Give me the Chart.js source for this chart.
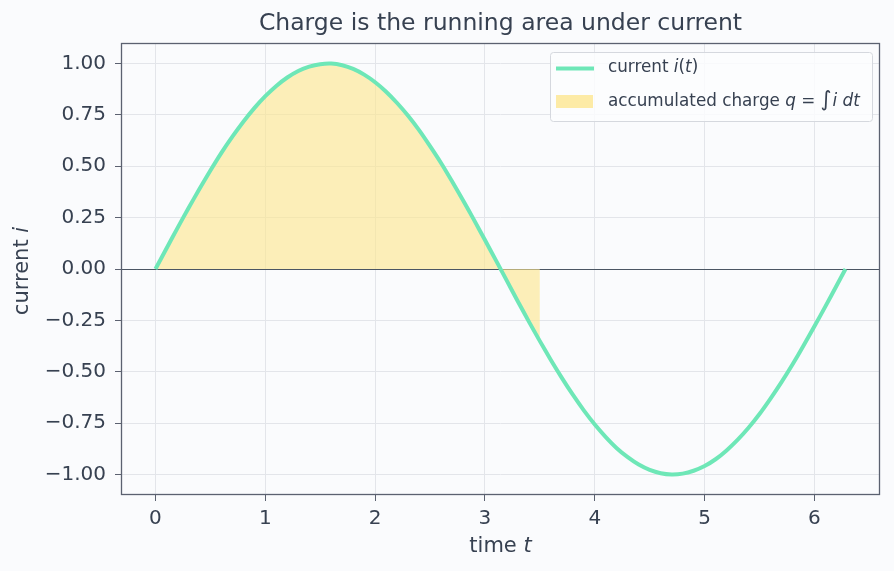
<!DOCTYPE html>
<html><head><meta charset="utf-8">
<script src="https://cdn.jsdelivr.net/npm/chart.js@4/dist/chart.umd.min.js"></script>
<style>html,body{margin:0;padding:0;background:#fafbfd;}#wrap{width:894px;height:571px;}</style>
</head><body><div id="wrap"><canvas id="c" width="894" height="571"></canvas></div>
<script>
const timeValues = [0,0.1,0.2,0.3,0.4,0.5,0.6,0.7,0.8,0.9,1.0,1.1,1.2,1.3,1.4,1.5,1.6,1.7,1.8,1.9,2.0,2.1,2.2,2.3,2.4,2.5,2.6,2.7,2.8,2.9,3.0,3.1,3.2,3.3,3.4,3.5,3.6,3.7,3.8,3.9,4.0,4.1,4.2,4.3,4.4,4.5,4.6,4.7,4.8,4.9,5.0,5.1,5.2,5.3,5.4,5.5,5.6,5.7,5.8,5.9,6.0,6.1,6.2,6.283];
const currentValues = [0,0.100,0.199,0.296,0.389,0.479,0.565,0.644,0.717,0.783,0.841,0.891,0.932,0.964,0.985,0.997,1.000,0.992,0.974,0.946,0.909,0.863,0.808,0.746,0.676,0.598,0.516,0.427,0.335,0.239,0.141,0.042,-0.058,-0.158,-0.256,-0.351,-0.443,-0.530,-0.612,-0.688,-0.757,-0.818,-0.872,-0.916,-0.952,-0.978,-0.994,-1.000,-0.996,-0.982,-0.959,-0.926,-0.883,-0.832,-0.773,-0.706,-0.631,-0.551,-0.465,-0.374,-0.279,-0.182,-0.083,0.0];
const chargeEnd = 3.5;
const xTicks = [0,1,2,3,4,5,6];
const yTicks = [-1.0,-0.75,-0.5,-0.25,0,0.25,0.5,0.75,1.0];

const linePts = timeValues.map((t,i)=>({x:t,y:currentValues[i]}));
const fillPts = linePts.filter(p=>p.x<=chargeEnd+1e-9);

const TXT = '#374151';
const FONT = '"DejaVu Sans", sans-serif';

const deco = {
  id:'deco',
  beforeDatasetsDraw(chart){
    const {ctx, chartArea:a, scales:{y}} = chart;
    ctx.save();
    ctx.strokeStyle = '#4b5563'; ctx.lineWidth = 1.2;
    const y0 = Math.round(y.getPixelForValue(0))+0.5;
    ctx.beginPath(); ctx.moveTo(a.left,y0); ctx.lineTo(a.right,y0); ctx.stroke();
    ctx.restore();
  },
  afterDraw(chart){
    const {ctx, chartArea:a} = chart;
    ctx.save();
    ctx.strokeStyle = '#5b6170'; ctx.lineWidth = 1.3;
    ctx.strokeRect(a.left+0.5,a.top+0.5,a.right-a.left-1,a.bottom-a.top-1);
    // title
    ctx.fillStyle = TXT; ctx.textAlign='center'; ctx.textBaseline='middle';
    ctx.font = '23.5px '+FONT;
    ctx.fillText('Charge is the running area under current',(a.left+a.right)/2,24);
    // x label
    const LS='21px ';
    const xl1='time ', xl2='t';
    ctx.textAlign='left';
    ctx.font=LS+FONT; let w1=ctx.measureText(xl1).width; ctx.font='oblique '+LS+FONT; let w2=ctx.measureText(xl2).width;
    let sx=(a.left+a.right)/2-(w1+w2)/2;
    ctx.font=LS+FONT; ctx.fillText(xl1,sx,547);
    ctx.font='oblique '+LS+FONT; ctx.fillText(xl2,sx+w1,547);
    // y label
    ctx.save(); ctx.translate(23,(a.top+a.bottom)/2+2); ctx.rotate(-Math.PI/2);
    ctx.font=LS+FONT; const yl1='current '; w1=ctx.measureText(yl1).width;
    ctx.font='oblique '+LS+FONT; w2=ctx.measureText('i').width;
    sx=-(w1+w2)/2;
    ctx.font=LS+FONT; ctx.fillText(yl1,sx,0);
    ctx.font='oblique '+LS+FONT; ctx.fillText('i',sx+w1,0);
    ctx.restore();
    // legend
    const lx=550, ly=52, lw=322, lh=69;
    ctx.fillStyle='rgba(252,253,254,0.85)'; ctx.strokeStyle='#d5d8de'; ctx.lineWidth=1;
    ctx.beginPath(); ctx.roundRect(lx+0.5,ly+0.5,lw,lh,3); ctx.fill(); ctx.stroke();
    ctx.strokeStyle='#6ee7b7'; ctx.lineWidth=4;
    ctx.beginPath(); ctx.moveTo(556,68.5); ctx.lineTo(594,68.5); ctx.stroke();
    ctx.fillStyle='rgba(253,230,138,0.75)'; ctx.fillRect(556,95,37,13);
    ctx.fillStyle=TXT; ctx.textBaseline='middle'; ctx.textAlign='left';
    const seg=(parts,x,y)=>{for(const [t,it] of parts){ctx.font=(it?'oblique ':'')+'16.8px '+FONT; ctx.fillText(t,x,y); x+=ctx.measureText(t).width;} return x;};
    seg([['current ',0],['i',1],['(',0],['t',1],[')',0]],608,68);
    let ex = seg([['accumulated charge ',0],['q',1],[' = ',0]],608,102);
    ctx.font='21px '+FONT; ctx.fillText('∫',ex,101); ex+=ctx.measureText('∫').width+1;
    seg([['i',1],[' ',0],['dt',1]],ex,102);
    ctx.restore();
  }
};

new Chart(document.getElementById('c'),{
  type:'line',
  data:{datasets:[
    {label:'current i(t)',data:linePts,borderColor:'#6ee7b7',borderWidth:4,pointRadius:0,tension:0.2,fill:false},
    {label:'accumulated charge',data:fillPts,borderWidth:0,borderColor:'rgba(0,0,0,0)',backgroundColor:'rgba(253,230,138,0.6)',pointRadius:0,tension:0.2,fill:'origin'}
  ]},
  options:{
    responsive:false,animation:false,
    layout:{padding:{top:43,right:14,left:0,bottom:0}},
    plugins:{legend:{display:false},tooltip:{enabled:false},title:{display:false}},
    scales:{
      x:{type:'linear',min:-0.314,max:6.597,
        afterBuildTicks(s){s.ticks=xTicks.map(v=>({value:v}));},
        afterFit(s){s.height=76;},
        grid:{color:'#e3e5ea',lineWidth:1,tickColor:'#5b6170',tickLength:6,drawTicks:true},
        border:{display:false},
        ticks:{color:TXT,font:{family:FONT,size:20},padding:6,maxRotation:0,callback:v=>String(v)}},
      y:{type:'linear',min:-1.1,max:1.1,
        afterBuildTicks(s){s.ticks=yTicks.map(v=>({value:v}));},
        afterFit(s){s.width=121;},
        grid:{color:'#e3e5ea',lineWidth:1,tickColor:'#5b6170',tickLength:6,drawTicks:true},
        border:{display:false},
        ticks:{color:TXT,font:{family:FONT,size:20},padding:9,callback:v=>v.toFixed(2).replace('-','−')}}
    }
  },
  plugins:[deco]
});
</script></body></html>
